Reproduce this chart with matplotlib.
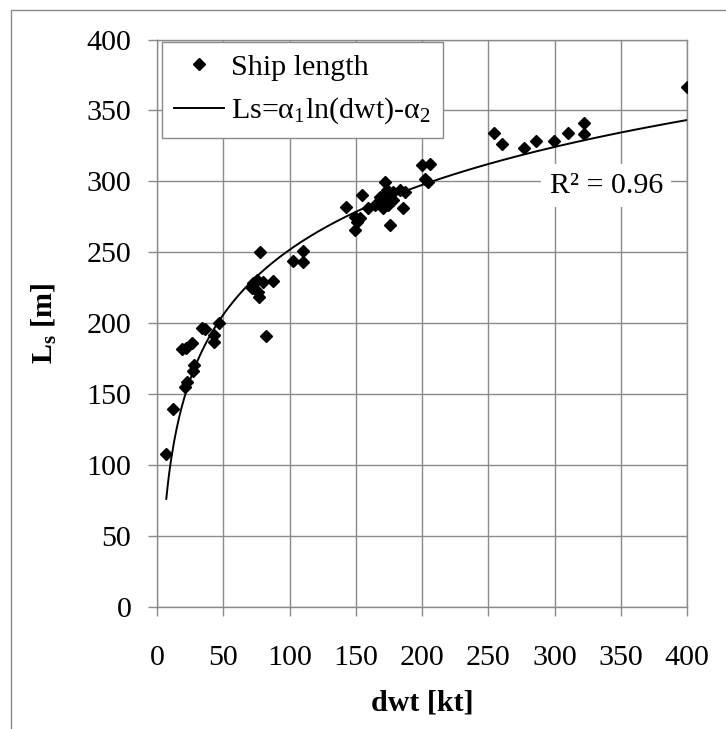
import numpy as np
import matplotlib.pyplot as plt
from matplotlib.patches import Rectangle

plt.rcParams['font.family'] = ['Liberation Serif', 'DejaVu Serif']
plt.rcParams['mathtext.fontset'] = 'custom'
plt.rcParams['mathtext.rm'] = 'Liberation Serif'
plt.rcParams['mathtext.it'] = 'Liberation Serif:italic'
plt.rcParams['mathtext.bf'] = 'Liberation Serif:bold'

# deadweight [kt] and ship length [m]
dwt = [7.0, 11.8, 21.1, 22.4, 26.9, 28.2, 19.1, 21.6, 26.7, 33.7, 36.2, 43.3, 43.0, 47.0,
       77.7, 72.7, 75.2, 80.2, 87.3, 71.5, 77.2, 76.5, 82.3, 102.9, 110.0, 110.4,
       142.6, 154.5, 149.4, 150.7, 149.4, 153.2, 159.5, 164.5, 168.3, 172.1, 173.3,
       170.8, 175.8, 178.3, 174.6, 170.8, 183.4, 187.2, 185.9, 175.8, 168.3, 178.3,
       199.7, 206.0, 202.3, 204.8,
       254.3, 260.6, 277.0, 286.0, 299.9, 310.4, 322.5, 322.5, 399.7]
length = [107.8, 139.3, 154.8, 158.8, 166.3, 170.5, 181.6, 182.3, 186.3, 196.8, 195.7, 191.7, 186.5, 200.4,
          250.0, 228.1, 230.4, 229.2, 230.0, 224.6, 218.7, 222.2, 191.0, 244.0, 251.1, 243.3,
          281.7, 290.3, 275.0, 271.5, 265.7, 273.9, 281.0, 283.3, 285.6, 299.7, 293.9,
          289.2, 289.2, 292.7, 283.3, 281.0, 293.9, 292.7, 281.0, 269.2, 289.2, 286.8,
          311.5, 312.2, 301.4, 299.7,
          333.8, 326.3, 323.3, 328.4, 328.4, 333.8, 340.9, 333.1, 366.2]

# trend line coefficients, Ls = a1*ln(dwt) - a2
alpha1 = 66.0
alpha2 = 52.2
r2_text = 'R² = 0.96'

x = np.array(dwt)
y = np.array(length)
xf = np.linspace(x.min(), x.max(), 400)
yf = alpha1 * np.log(xf) - alpha2

W, H = 726, 729
fig = plt.figure(figsize=(W / 100, H / 100), dpi=100)
ax = fig.add_axes([157 / W, 1 - 607 / H, 530 / W, 567.5 / H])

grey = '#8a8a8a'
fs = 21.6

ax.plot(x, y, linestyle='none', marker='D', ms=6.6, color='black', label='Ship length', zorder=3)
ax.plot(xf, yf, color='black', lw=1.4, label=r'Ls=$\mathrm{\alpha}_1$ln(dwt)-$\mathrm{\alpha}_2$', zorder=3)

ax.set_xlim(0, 400)
ax.set_ylim(0, 400)
ax.set_xticks(np.arange(0, 401, 50))
ax.set_yticks(np.arange(0, 401, 50))
ax.grid(True, color=grey, lw=1.0)
ax.set_axisbelow(True)
for s in ax.spines.values():
    s.set_color(grey)
    s.set_linewidth(1.0)
ax.tick_params(axis='both', direction='out', length=6.5, width=1.0, color=grey,
               labelsize=fs)
ax.tick_params(axis='x', pad=21)
ax.tick_params(axis='y', pad=12)

ax.set_xlabel('dwt [kt]', fontsize=fs, fontweight='bold', labelpad=13)
ax.set_ylabel(r'L$_{\mathbf{s}}$ [m]', fontsize=fs, fontweight='bold', labelpad=20)

ax.text(339, 297, r2_text, fontsize=fs, ha='center', va='center',
        bbox=dict(facecolor='white', edgecolor='none', pad=6), zorder=4)

leg = ax.legend(loc='upper left', bbox_to_anchor=(0.009, 0.996), borderaxespad=0,
                fontsize=fs, fancybox=False, framealpha=1, edgecolor=grey,
                handlelength=1.67, handletextpad=0.25, borderpad=0.4, labelspacing=0.5)
leg.get_frame().set_linewidth(1.0)

# outer chart frame
fig.patches.append(Rectangle((10.5 / W, -0.1), 1.2, 1 - 10 / H + 0.1, transform=fig.transFigure,
                             fill=False, edgecolor=grey, lw=1.0))

fig.savefig('out.png', dpi=100)
